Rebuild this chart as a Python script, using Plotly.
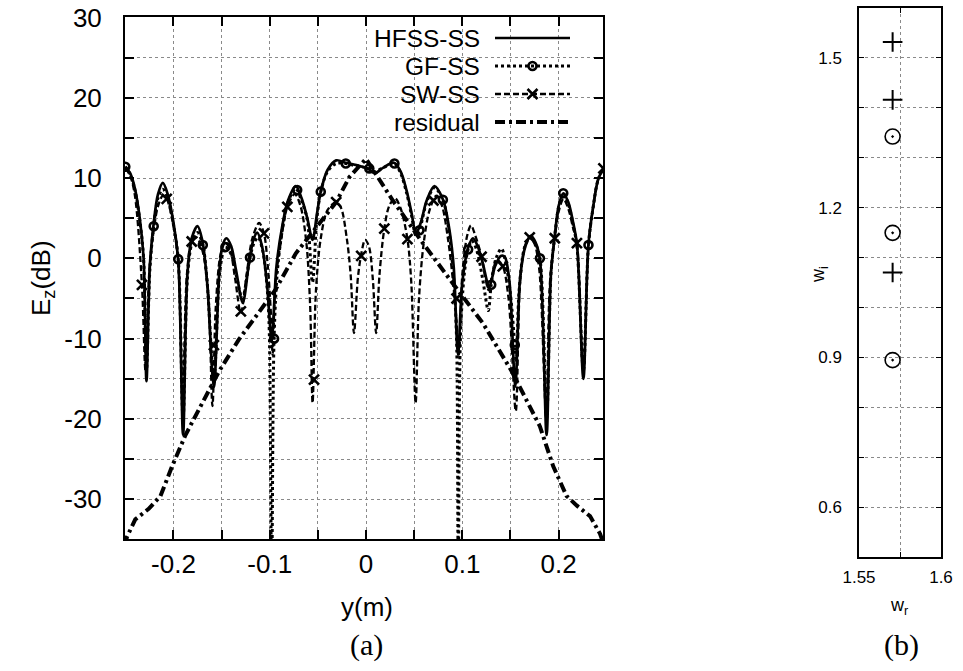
import plotly.graph_objects as go

# ---------------- panel (a) data ----------------
hfss_x = [-0.250, -0.245, -0.240, -0.235, -0.231, -0.228, -0.2245, -0.2205, -0.216, -0.211,
          -0.206, -0.200, -0.195, -0.190, -0.1855, -0.181, -0.175, -0.170, -0.165, -0.158,
          -0.1525, -0.149, -0.145, -0.140, -0.135, -0.128, -0.122, -0.117, -0.113, -0.108,
          -0.103, -0.098, -0.093, -0.087, -0.081, -0.073, -0.067, -0.061, -0.0556, -0.051,
          -0.047, -0.040, -0.031, -0.021, -0.010, 0.003, 0.009, 0.018, 0.029, 0.036,
          0.042, 0.047, 0.052, 0.057, 0.063, 0.071, 0.080, 0.086, 0.091, 0.0955,
          0.100, 0.106, 0.111, 0.116, 0.121, 0.128, 0.134, 0.140, 0.144, 0.149,
          0.155, 0.160, 0.1655, 0.171, 0.176, 0.1806, 0.1875, 0.192, 0.196, 0.200,
          0.2048, 0.210, 0.215, 0.219, 0.2257, 0.231, 0.236, 0.241, 0.2465]
hfss_y = [11.4, 10.6, 8.7, 5.0, 0.0, -15.3, -1.0, 4.4, 8.0, 9.4,
          8.0, 4.5, -0.3, -22.0, -2.0, 2.5, 4.0, 2.2, -3.0, -16.0,
          -2.0, 1.6, 2.5, 1.5, -1.5, -5.5, -1.0, 2.3, 3.2, 1.5,
          -3.0, -10.0, -1.0, 4.0, 7.2, 9.0, 7.5, 5.0, 2.3, 5.5,
          8.3, 11.0, 12.2, 11.9, 11.6, 11.1, 10.6, 11.3, 11.9, 10.8,
          8.5, 5.8, 3.1, 4.5, 7.2, 9.0, 7.3, 4.0, -1.0, -12.0,
          -3.0, 1.3, 2.5, 1.5, -0.5, -3.5, -1.0, 0.3, 0.2, -3.0,
          -16.0, -2.5, 1.5, 2.8, 2.0, -0.2, -22.0, -2.0, 2.8, 6.5,
          8.1, 7.0, 4.5, 1.8, -15.0, 1.8, 6.5, 9.8, 11.2]

gf_x = [-0.250, -0.245, -0.240, -0.235, -0.231, -0.228, -0.2245, -0.2205, -0.216, -0.211,
        -0.206, -0.200, -0.195, -0.190, -0.1855, -0.181, -0.175, -0.1695, -0.165, -0.158,
        -0.1525, -0.149, -0.146, -0.140, -0.135, -0.1285, -0.1205, -0.116, -0.112, -0.107,
        -0.1025, -0.1005, -0.098, -0.0955, -0.092, -0.087, -0.081, -0.073, -0.067, -0.061,
        -0.0556, -0.051, -0.047, -0.040, -0.031, -0.021, -0.010, 0.0034, 0.009, 0.018,
        0.0295, 0.036, 0.042, 0.047, 0.052, 0.0555, 0.063, 0.071, 0.0798, 0.086,
        0.091, 0.094, 0.0958, 0.098, 0.102, 0.106, 0.110, 0.115, 0.121, 0.127,
        0.130, 0.135, 0.1406, 0.145, 0.150, 0.1545, 0.156, 0.159, 0.165, 0.171,
        0.176, 0.1806, 0.1875, 0.192, 0.196, 0.200, 0.2048, 0.210, 0.215, 0.219,
        0.2257, 0.231, 0.236, 0.241, 0.2465]
gf_y = [11.4, 10.5, 8.5, 4.8, 0.0, -14.0, -1.5, 4.0, 7.5, 8.6,
        7.5, 4.2, -0.1, -20.0, -2.5, 1.8, 3.2, 1.65, -3.0, -15.0,
        -2.5, 0.5, 1.4, 0.5, -2.0, -5.0, 0.1, 2.0, 2.6, 0.8,
        -4.0, -9.0, -40.0, -10.0, -1.5, 3.5, 7.0, 8.7, 7.2, 4.8,
        -3.0, 5.0, 8.3, 10.8, 11.8, 11.8, 11.5, 11.2, 10.8, 11.3,
        11.8, 10.6, 8.2, 5.5, 2.8, 3.5, 7.0, 8.8, 7.3, 3.5,
        -2.5, -10.0, -40.0, -10.0, -2.0, 1.1, 2.2, 1.0, -2.5, -6.5,
        -3.3, 0.0, 1.2, -0.5, -4.5, -10.8, -13.0, -4.0, 1.5, 2.6,
        1.8, 0.0, -20.0, -2.0, 2.8, 6.4, 8.1, 6.8, 4.2, 1.5,
        -14.0, 1.65, 6.5, 9.8, 11.2]
gf_mark_x = [-0.250, -0.2205, -0.195, -0.1695, -0.146, -0.1205, -0.0955, -0.0715, -0.047,
             -0.021, 0.0034, 0.0295, 0.0555, 0.0798, 0.106, 0.130, 0.1545, 0.1806, 0.2048, 0.231]
gf_mark_y = [11.4, 4.0, -0.1, 1.65, 1.4, 0.1, -10.0, 8.5, 8.3,
             11.8, 11.2, 11.8, 3.5, 7.3, 1.1, -3.3, -10.8, 0.0, 8.1, 1.65]

sw_x = [-0.250, -0.245, -0.240, -0.2327, -0.229, -0.225, -0.2205, -0.216, -0.211, -0.207,
        -0.200, -0.195, -0.1905, -0.186, -0.181, -0.176, -0.170, -0.164, -0.1595, -0.156,
        -0.151, -0.146, -0.141, -0.136, -0.130, -0.124, -0.118, -0.111, -0.106, -0.102,
        -0.0985, -0.097, -0.094, -0.0885, -0.0817, -0.074, -0.068, -0.062, -0.058, -0.0555,
        -0.052, -0.047, -0.040, -0.031, -0.026, -0.020, -0.016, -0.0125, -0.0085, -0.005,
        -0.001, 0.003, 0.007, 0.0105, 0.014, 0.019, 0.024, 0.030, 0.036, 0.043,
        0.047, 0.0515, 0.055, 0.060, 0.066, 0.073, 0.079, 0.085, 0.090, 0.094,
        0.0965, 0.100, 0.105, 0.109, 0.113, 0.120, 0.124, 0.1275, 0.131, 0.136,
        0.142, 0.148, 0.1555, 0.160, 0.165, 0.170, 0.175, 0.180, 0.187, 0.191,
        0.196, 0.200, 0.205, 0.210, 0.215, 0.219, 0.2255, 0.231, 0.236, 0.241, 0.2465]
sw_y = [11.2, 10.3, 7.8, -3.3, -14.0, -1.5, 3.5, 6.5, 7.8, 7.4,
        4.0, -0.5, -18.0, -2.0, 2.1, 2.6, 1.0, -4.0, -18.4, -6.0,
        0.5, 2.0, 1.0, -2.5, -6.8, -2.0, 2.5, 4.4, 3.1, -1.0,
        -7.5, -12.0, -3.0, 2.0, 6.4, 8.0, 6.5, 2.0, -6.0, -18.0,
        -4.0, 2.5, 6.0, 7.0, 6.3, 2.5, -2.0, -9.3, -2.5, 0.5,
        2.3, 1.5, -2.5, -9.3, -2.0, 3.7, 6.5, 7.5, 6.2, 2.4,
        -3.0, -18.0, -5.0, 2.0, 6.0, 7.8, 6.5, 2.5, -2.5, -8.0,
        -12.0, -2.0, 2.8, 4.1, 3.0, 0.2, -2.5, -4.0, -2.0, -0.2,
        -1.0, -5.0, -19.0, -3.0, 1.5, 2.6, 1.8, -1.5, -19.0, -3.0,
        2.5, 5.8, 7.4, 6.2, 3.8, 1.9, -14.0, 1.5, 6.5, 9.8, 11.2]
sw_mark_x = [-0.2327, -0.207, -0.181, -0.158, -0.130, -0.106, -0.0817, -0.054, -0.031, -0.005,
             0.019, 0.043, 0.070, 0.094, 0.120, 0.142, 0.170, 0.196, 0.219, 0.2465]
sw_mark_y = [-3.3, 7.4, 2.1, -10.8, -6.6, 3.1, 6.4, -15.1, 7.0, 0.3,
             3.7, 2.4, 7.2, -5.0, 0.2, -1.0, 2.6, 2.5, 1.9, 11.2]

res_x = [-0.250, -0.2483, -0.2396, -0.2257, -0.2135, -0.2014, -0.1875, -0.170, -0.1528, -0.132,
         -0.1146, -0.094, -0.073, -0.052, -0.031, -0.0174, 0.0, 0.0278, 0.059, 0.090,
         0.1215, 0.151, 0.1805, 0.1944, 0.2083, 0.219, 0.2326, 0.243, 0.2465]
res_y = [-35.8, -34.7, -32.5, -31.2, -29.6, -25.9, -22.0, -18.0, -14.1, -10.1,
         -7.2, -3.9, 0.6, 3.9, 7.0, 10.1, 12.4, 7.2, 1.9, -3.1,
         -8.1, -14.0, -20.9, -25.9, -29.6, -30.8, -32.1, -34.3, -35.5]

series_names = ["HFSS-SS", "GF-SS", "SW-SS", "residual"]

a_xtick_vals = [-0.25, -0.2, -0.15, -0.1, -0.05, 0.0, 0.05, 0.1, 0.15, 0.2, 0.25]
a_xtick_text = ["", "-0.2", "", "-0.1", "", "0", "", "0.1", "", "0.2", ""]
a_ytick_vals = [-35, -30, -25, -20, -15, -10, -5, 0, 5, 10, 15, 20, 25, 30]
a_ytick_text = ["", "-30", "", "-20", "", "-10", "", "0", "", "10", "", "20", "", "30"]

# ---------------- panel (b) data ----------------
b_plus_wr = [1.5705, 1.5705, 1.5705]
b_plus_wi = [1.532, 1.416, 1.070]
b_circ_wr = [1.5705, 1.5705, 1.5705]
b_circ_wi = [1.3425, 1.1495, 0.8945]

b_xtick_vals = [1.55, 1.575, 1.6]
b_xtick_text = ["1.55", "", "1.6"]
b_ytick_vals = [0.5, 0.6, 0.7, 0.8, 0.9, 1.0, 1.1, 1.2, 1.3, 1.4, 1.5, 1.6]
b_ytick_text = ["", "0.6", "", "", "0.9", "", "", "1.2", "", "", "1.5", ""]

W, H = 963, 671
def px(x): return x / W
def py(y): return 1 - y / H

FONT = "Liberation Sans, Arial, sans-serif"
SERIF = "Liberation Serif, DejaVu Serif, serif"

styles = {
    "HFSS-SS": dict(line=dict(color="black", width=2.7), marker=None),
    "GF-SS": dict(line=dict(color="black", width=3, dash="3px,3px"),
                  marker=dict(symbol="circle-open", size=8, color="black", line=dict(width=2.6, color="black"))),
    "SW-SS": dict(line=dict(color="black", width=2.3, dash="6px,3px"),
                  marker=dict(symbol="x-thin-open", size=10, color="black", line=dict(width=2.6, color="black"))),
    "residual": dict(line=dict(color="black", width=4, dash="10px,4px,3px,4px"), marker=None),
}

fig = go.Figure()

# curves
fig.add_trace(go.Scatter(x=hfss_x, y=hfss_y, mode="lines", line=styles["HFSS-SS"]["line"],
                         line_shape="spline", line_smoothing=0.9, showlegend=False, xaxis="x", yaxis="y"))
fig.add_trace(go.Scatter(x=gf_x, y=gf_y, mode="lines", line=styles["GF-SS"]["line"],
                         line_shape="spline", line_smoothing=0.9, showlegend=False))
fig.add_trace(go.Scatter(x=sw_x, y=sw_y, mode="lines", line=styles["SW-SS"]["line"],
                         line_shape="spline", line_smoothing=0.9, showlegend=False))
fig.add_trace(go.Scatter(x=res_x, y=res_y, mode="lines", line=styles["residual"]["line"],
                         showlegend=False))
fig.add_trace(go.Scatter(x=gf_mark_x, y=gf_mark_y, mode="markers", marker=styles["GF-SS"]["marker"],
                         showlegend=False))
fig.add_trace(go.Scatter(x=sw_mark_x, y=sw_mark_y, mode="markers", marker=styles["SW-SS"]["marker"],
                         showlegend=False))

# legend-only entries (one legend per row so rows sit where the original's do)
legend_rows_px = [38, 66, 94, 122]
for i, name in enumerate(series_names):
    st = styles[name]
    lg = "legend" if i == 0 else f"legend{i+1}"
    kw = dict(x=[None], y=[None], name=" ", legend=lg, showlegend=True,
              line=st["line"], mode="lines+markers" if st["marker"] else "lines")
    if st["marker"]:
        kw["marker"] = st["marker"]
    fig.add_trace(go.Scatter(**kw))

# panel (b)
fig.add_trace(go.Scatter(x=b_plus_wr, y=b_plus_wi, mode="markers", xaxis="x2", yaxis="y2",
                         marker=dict(symbol="cross-thin-open", size=14, color="black",
                                     line=dict(width=2, color="black")), showlegend=False))
fig.add_trace(go.Scatter(x=b_circ_wr, y=b_circ_wi, mode="markers", xaxis="x2", yaxis="y2",
                         marker=dict(symbol="circle-open-dot", size=15, color="black",
                                     line=dict(width=1.6, color="black")), showlegend=False))

grid = dict(showgrid=True, gridcolor="#8a8a8a", gridwidth=1, griddash="dot")
axis_common = dict(showline=True, linecolor="black", mirror="ticks", ticks="inside",
                   tickcolor="black", zeroline=False, automargin=False, **grid)

layout = dict(
    width=W, height=H, margin=dict(l=0, r=0, t=0, b=0, autoexpand=False),
    paper_bgcolor="white", plot_bgcolor="white",
    font=dict(family=FONT, color="black"),
    xaxis=dict(domain=[px(125), px(603.3)], range=[-0.2503, 0.2464], tickvals=a_xtick_vals,
               ticktext=a_xtick_text, ticklen=9, tickwidth=1.5, linewidth=2,
               tickfont=dict(size=26), ticklabelstandoff=0, anchor="y", **axis_common),
    yaxis=dict(domain=[py(539.4), py(17.4)], range=[-35, 30], tickvals=a_ytick_vals,
               ticktext=a_ytick_text, ticklen=9, tickwidth=1.5, linewidth=2,
               tickfont=dict(size=26), ticklabelstandoff=16, anchor="x", **axis_common),
    xaxis2=dict(domain=[px(859), px(941)], range=[1.55, 1.6], tickvals=b_xtick_vals,
                ticktext=b_xtick_text, ticklen=5, tickwidth=1, linewidth=1.5,
                tickfont=dict(size=17), ticklabelstandoff=4, anchor="y2", **axis_common),
    yaxis2=dict(domain=[py(557), py(8)], range=[0.5, 1.6], tickvals=b_ytick_vals,
                ticktext=b_ytick_text, ticklen=5, tickwidth=1, linewidth=1.5,
                tickfont=dict(size=17), ticklabelstandoff=12, anchor="x2", **axis_common),
)

for i in range(4):
    key = "legend" if i == 0 else f"legend{i+1}"
    layout[key] = dict(x=px(490), y=py(legend_rows_px[i]), xanchor="left", yanchor="middle",
                       bgcolor="rgba(0,0,0,0)", borderwidth=0, itemwidth=75,
                       font=dict(size=12), tracegroupgap=0)

fig.update_layout(**layout)

# white legend background hiding the grid
fig.add_shape(type="rect", xref="paper", yref="paper", x0=px(347), x1=px(590), y0=py(135), y1=py(23),
              fillcolor="white", line=dict(width=0), layer="between")

# legend labels (right-aligned, gnuplot style)
for i, name in enumerate(series_names):
    fig.add_annotation(x=px(482), y=py(legend_rows_px[i]), xref="paper", yref="paper",
                       text=name, showarrow=False, xanchor="right", yanchor="middle",
                       height=26, valign="middle", align="right",
                       font=dict(size=24.5, family=FONT))

# axis titles and panel labels
labels = [
    dict(x=42, y=278, text="E<sub>z</sub>(dB)", angle=-90, size=26, family=FONT),
    dict(x=367, y=607, text="y(m)", angle=0, size=26, family=FONT),
    dict(x=366, y=645, text="(a)", angle=0, size=30, family=SERIF),
    dict(x=819, y=275, text="w<sub>i</sub>", angle=-90, size=18, family=FONT),
    dict(x=899, y=606, text="w<sub>r</sub>", angle=0, size=18, family=FONT),
    dict(x=901, y=645, text="(b)", angle=0, size=30, family=SERIF),
]
for lb in labels:
    fig.add_annotation(x=px(lb["x"]), y=py(lb["y"]), xref="paper", yref="paper", text=lb["text"],
                       textangle=lb["angle"], showarrow=False, xanchor="center", yanchor="middle",
                       font=dict(size=lb["size"], family=lb["family"]))

fig.write_html("out.html")
